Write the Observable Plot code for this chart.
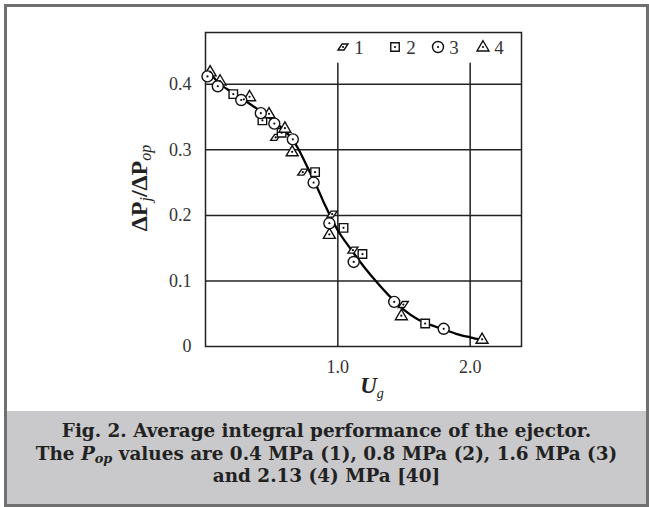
<!DOCTYPE html>
<html><head><meta charset="utf-8">
<script src="https://cdn.jsdelivr.net/npm/d3@7"></script>
<script src="https://cdn.jsdelivr.net/npm/@observablehq/plot@0.6"></script>
<style>
html,body{margin:0;padding:0;background:#fff;}
#wrap{position:relative;width:649px;height:507px;overflow:hidden;background:#fff;}
#chart{position:absolute;left:0;top:0;}
#chart svg text, #legend text{font-family:"Liberation Serif",serif !important;}
#legend{position:absolute;left:0;top:0;z-index:3;}
#border{position:absolute;left:4px;top:4px;width:639px;height:497px;border:3px solid #707070;z-index:5;pointer-events:none;}
#caption{position:absolute;left:7px;top:411px;width:639px;height:93px;background:#c9c9cb;z-index:4;
  font-family:"DejaVu Serif",serif;font-weight:bold;font-size:18.4px;line-height:22.5px;color:#222;
  text-align:center;box-sizing:border-box;padding-top:9px;}
#caption sub{font-size:0.7em;line-height:0;vertical-align:-0.25em;font-style:italic;}
</style>
</head><body>
<div id="wrap">
  <div id="chart"></div>
  <svg id="legend" width="649" height="80"></svg>
  <div id="caption">Fig. 2. Average integral performance of the ejector.<br>The <i>P</i><sub>op</sub> values are 0.4 MPa (1), 0.8 MPa (2), 1.6 MPa (3)<br>and 2.13 (4) MPa [40]</div>
  <div id="border"></div>
</div>
<script>
// ---- data ----
const xTicks = [1.0, 2.0];
const xTickLabels = ["1.0", "2.0"];
const yTicks = [0, 0.1, 0.2, 0.3, 0.4];
const yTickLabels = ["0", "0.1", "0.2", "0.3", "0.4"];
const gridX = [1.0, 2.0];
const gridY = [0.1, 0.2, 0.3, 0.4];
const legendLabels = ["1", "2", "3", "4"];

// series 1: 0.4 MPa (parallelogram)
const s1U = [0.29, 0.53, 0.735, 0.957, 1.114, 1.495];
const s1V = [0.377, 0.319, 0.266, 0.202, 0.147, 0.064];
// series 2: 0.8 MPa (square)
const s2U = [0.21, 0.43, 0.575, 0.828, 1.043, 1.186, 1.66];
const s2V = [0.385, 0.345, 0.326, 0.266, 0.181, 0.141, 0.035];
// series 3: 1.6 MPa (circle)
const s3U = [0.015, 0.093, 0.27, 0.418, 0.52, 0.66, 0.817, 0.936, 1.12, 1.426, 1.80];
const s3V = [0.412, 0.397, 0.376, 0.356, 0.340, 0.316, 0.250, 0.188, 0.129, 0.068, 0.027];
// series 4: 2.13 MPa (triangle)
const s4U = [0.035, 0.11, 0.333, 0.48, 0.60, 0.655, 0.936, 1.48, 2.09];
const s4V = [0.419, 0.405, 0.381, 0.355, 0.333, 0.297, 0.171, 0.047, 0.011];
// fitted curve
const curveU = [0.02, 0.1, 0.2, 0.3, 0.4, 0.5, 0.6, 0.66, 0.7, 0.8, 0.85, 0.9, 1.0, 1.1, 1.2, 1.3, 1.4, 1.5, 1.6, 1.7, 1.8, 1.9, 2.0, 2.09];
const curveV = [0.422, 0.402, 0.388, 0.375, 0.361, 0.346, 0.329, 0.315, 0.302, 0.261, 0.240, 0.217, 0.177, 0.148, 0.121, 0.097, 0.075, 0.056, 0.042, 0.033, 0.026, 0.019, 0.014, 0.010];

// ---- symbols ----
const symPara = {draw(c, size){ const r=Math.sqrt(size/Math.PI); const a=r*0.6, s=r*0.4, h=r*0.6;
  c.moveTo(-a+s,-h); c.lineTo(a+s,-h); c.lineTo(a-s,h); c.lineTo(-a-s,h); c.closePath(); }};
const symSquare = {draw(c, size){ const r=Math.sqrt(size/Math.PI); const h=r*0.85;
  c.moveTo(-h,-h); c.lineTo(h,-h); c.lineTo(h,h); c.lineTo(-h,h); c.closePath(); }};
const symCircle = {draw(c, size){ const r=Math.sqrt(size/Math.PI)*1.1;
  c.moveTo(r,0); c.arc(0,0,r,0,2*Math.PI); c.closePath(); }};
const symTri = {draw(c, size){ const r=Math.sqrt(size/Math.PI);
  c.moveTo(0,-r*1.25); c.lineTo(r*1.2,r*0.8); c.lineTo(-r*1.2,r*0.8); c.closePath(); }};

const toRows = (U, V) => U.map((u, i) => ({u, v: V[i]}));
const s1 = toRows(s1U, s1V), s2 = toRows(s2U, s2V), s3 = toRows(s3U, s3V), s4 = toRows(s4U, s4V);
const all = [...s1, ...s2, ...s3, ...s4];
const curve = toRows(curveU, curveV);

const dotStyle = {x: "u", y: "v", r: 5, fill: "white", stroke: "#111", strokeWidth: 1.4};

const plot = Plot.plot({
  width: 649, height: 410,
  marginLeft: 205, marginRight: 128, marginTop: 32, marginBottom: 64,
  style: {fontFamily: "'Liberation Serif', serif", fontSize: "18px", color: "#333", background: "transparent", overflow: "visible"},
  x: {domain: [0, 2.388], ticks: xTicks, tickFormat: d => xTickLabels[xTicks.indexOf(d)], tickSize: 0, tickPadding: 14, label: null},
  y: {domain: [0, 0.479], ticks: yTicks, tickFormat: d => yTickLabels[yTicks.indexOf(d)], tickSize: 0, tickPadding: 14, label: null},
  marks: [
    Plot.ruleY(gridY, {stroke: "#222", strokeWidth: 1.5}),
    Plot.ruleX(gridX, {y1: 0, y2: 0.432, stroke: "#222", strokeWidth: 1.5}),
    Plot.frame({stroke: "#222", strokeWidth: 1.5}),
    Plot.line(curve, {x: "u", y: "v", curve: "catmull-rom", stroke: "#000", strokeWidth: 2.3}),
    Plot.dot(s1, {...dotStyle, symbol: symPara}),
    Plot.dot(s2, {...dotStyle, symbol: symSquare}),
    Plot.dot(s4, {...dotStyle, symbol: symTri}),
    Plot.dot(s3, {...dotStyle, symbol: symCircle}),
    Plot.dot(all, {x: "u", y: "v", r: 1.1, fill: "#111"})
  ]
});
document.getElementById("chart").appendChild(plot);

// axis titles
const svg = d3.select(plot);
const yl = svg.append("text")
  .attr("transform", "translate(147,188) rotate(-90)")
  .attr("text-anchor", "middle")
  .attr("font-size", 24).attr("font-weight", "bold").attr("fill", "#222");
yl.append("tspan").text("ΔP");
yl.append("tspan").attr("font-size", 16).attr("font-style", "italic").attr("font-weight", "normal").attr("dy", 4).text("j");
yl.append("tspan").attr("dy", -4).text("/ΔP");
yl.append("tspan").attr("font-size", 16).attr("font-style", "italic").attr("font-weight", "normal").attr("dy", 4).text("op");

const xl = svg.append("text")
  .attr("transform", "translate(372,393)")
  .attr("text-anchor", "middle")
  .attr("fill", "#222");
xl.append("tspan").attr("font-size", 23).attr("font-style", "italic").attr("font-weight", "bold").text("U");
xl.append("tspan").attr("font-size", 14).attr("font-style", "italic").attr("dy", 5).text("g");

// legend
const lg = d3.select("#legend");
const legendX = [343, 395, 438, 483];
const legendSyms = [symPara, symSquare, symCircle, symTri];
legendSyms.forEach((sym, i) => {
  const p = d3.path(); sym.draw(p, Math.PI * 25);
  lg.append("path").attr("d", p.toString()).attr("transform", `translate(${legendX[i]},47)`)
    .attr("fill", "white").attr("stroke", "#111").attr("stroke-width", 1.4);
  lg.append("circle").attr("cx", legendX[i]).attr("cy", 47).attr("r", 1.1).attr("fill", "#111");
  lg.append("text").attr("x", legendX[i] + 16).attr("y", 53.5).attr("text-anchor", "middle")
    .attr("font-size", 19).attr("fill", "#333").text(legendLabels[i]);
});
</script>
</body></html>
